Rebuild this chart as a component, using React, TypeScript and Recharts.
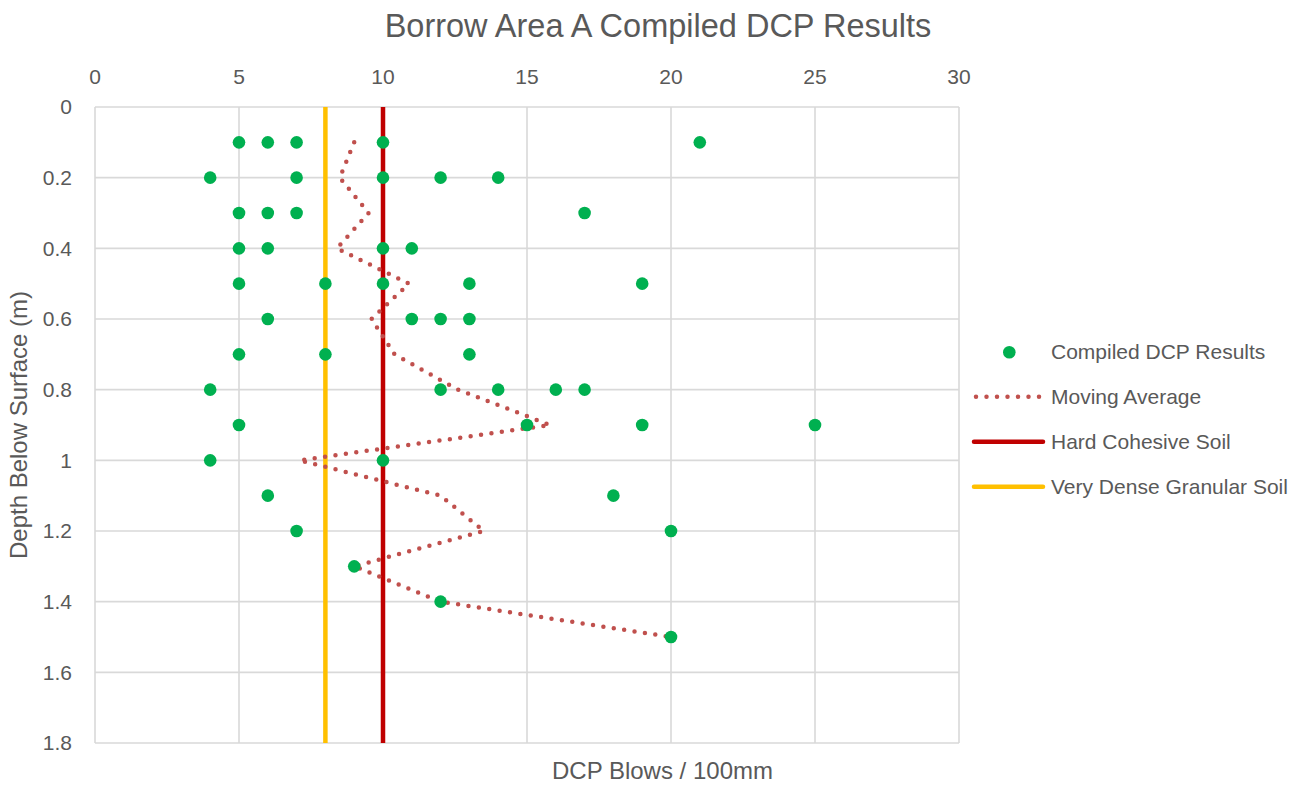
import React from 'react';
import { ScatterChart, Scatter, XAxis, YAxis, CartesianGrid } from 'recharts';

// Compiled DCP results (depth in m, blows per 100mm)
const dcpDepth = [
  0.1, 0.1, 0.1, 0.1, 0.1,
  0.2, 0.2, 0.2, 0.2, 0.2,
  0.3, 0.3, 0.3, 0.3,
  0.4, 0.4, 0.4, 0.4,
  0.5, 0.5, 0.5, 0.5, 0.5,
  0.6, 0.6, 0.6, 0.6,
  0.7, 0.7, 0.7,
  0.8, 0.8, 0.8, 0.8, 0.8,
  0.9, 0.9, 0.9, 0.9,
  1.0, 1.0,
  1.1, 1.1,
  1.2, 1.2,
  1.3,
  1.4,
  1.5,
];
const dcpBlows = [
  5, 6, 7, 10, 21,
  4, 7, 10, 12, 14,
  5, 6, 7, 17,
  5, 6, 10, 11,
  5, 8, 10, 13, 19,
  6, 11, 12, 13,
  5, 8, 13,
  4, 12, 14, 16, 17,
  5, 15, 19, 25,
  4, 10,
  6, 18,
  7, 20,
  9,
  12,
  20,
];

// Moving average
const maDepth = [0.1, 0.2, 0.3, 0.4, 0.5, 0.6, 0.7, 0.8, 0.9, 1.0, 1.1, 1.2, 1.3, 1.4, 1.5];
const maBlows = [9.0, 8.5, 9.5, 8.4, 10.9, 9.6, 10.4, 12.6, 15.8, 7.1, 12.0, 13.5, 9.0, 12.0, 20.0];

// Threshold lines
const hardCohesiveBlows = 10;
const denseGranularBlows = 8;
const thresholdDepths = [0, 1.8];

// Axes
const xTicks = [0, 5, 10, 15, 20, 25, 30];
const yTicks = [0, 0.2, 0.4, 0.6, 0.8, 1, 1.2, 1.4, 1.6, 1.8];

const title = 'Borrow Area A Compiled DCP Results';
const xTitle = 'DCP Blows / 100mm';
const yTitle = 'Depth Below Surface (m)';
const legendLabels = ['Compiled DCP Results', 'Moving Average', 'Hard Cohesive Soil', 'Very Dense Granular Soil'];

const FONT = '"Liberation Sans", Arial, sans-serif';
const TEXT = '#595959';
const GREEN = '#00B050';
const MA_RED = '#C0504D';
const DARK_RED = '#C00000';
const YELLOW = '#FFC000';

const points = dcpBlows.map((b, i) => ({ x: b, y: dcpDepth[i] }));
const maData = maBlows.map((b, i) => ({ x: b, y: maDepth[i] }));
const hardData = thresholdDepths.map((d) => ({ x: hardCohesiveBlows, y: d }));
const granularData = thresholdDepths.map((d) => ({ x: denseGranularBlows, y: d }));

const NoShape = () => <g />;
const Dot = (props: any) => <circle cx={props.cx} cy={props.cy} r={6.3} fill={GREEN} />;

export default function App() {
  return (
    <div style={{ position: 'absolute', left: 0, top: 0, width: 1306, height: 786, background: '#fff' }}>
      <ScatterChart width={1306} height={786} margin={{ top: 0, left: 0, right: 347, bottom: 43 }}>
        <CartesianGrid stroke="#D9D9D9" strokeWidth={1.6} />
        <XAxis
          type="number"
          dataKey="x"
          orientation="top"
          domain={[0, 30]}
          ticks={xTicks}
          height={107}
          axisLine={false}
          tickLine={false}
          tickSize={0}
          tickMargin={23}
          tick={{ fill: TEXT, fontSize: 21, fontFamily: FONT }}
          allowDataOverflow
        />
        <YAxis
          type="number"
          dataKey="y"
          reversed
          domain={[0, 1.8]}
          ticks={yTicks}
          width={95}
          axisLine={false}
          tickLine={false}
          tickSize={0}
          tickMargin={23}
          tick={{ fill: TEXT, fontSize: 21, fontFamily: FONT }}
          allowDataOverflow
        />
        <Scatter
          data={granularData}
          fill={YELLOW}
          line={{ stroke: YELLOW, strokeWidth: 4.5 }}
          shape={NoShape}
          isAnimationActive={false}
          legendType="none"
        />
        <Scatter
          data={hardData}
          fill={DARK_RED}
          line={{ stroke: DARK_RED, strokeWidth: 4.5 }}
          shape={NoShape}
          isAnimationActive={false}
          legendType="none"
        />
        <Scatter
          data={maData}
          fill={MA_RED}
          line={{ stroke: MA_RED, strokeWidth: 4.5, strokeDasharray: '0 10.5', strokeLinecap: 'round' }}
          shape={NoShape}
          isAnimationActive={false}
          legendType="none"
        />
        <Scatter data={points} fill={GREEN} shape={Dot} isAnimationActive={false} legendType="none" />
      </ScatterChart>
      <svg
        width={1306}
        height={786}
        style={{ position: 'absolute', left: 0, top: 0, pointerEvents: 'none' }}
        fontFamily={FONT}
      >
        <text x={658} y={36.7} textAnchor="middle" fontSize={32.5} fill={TEXT}>{title}</text>
        <text x={662.5} y={779.3} textAnchor="middle" fontSize={24} fill={TEXT}>{xTitle}</text>
        <text transform="translate(27,425) rotate(-90)" textAnchor="middle" fontSize={24} fill={TEXT}>{yTitle}</text>

        <circle cx={1009.3} cy={352.2} r={6.3} fill={GREEN} />
        <line x1={976} y1={396.7} x2={1042} y2={396.7} stroke={MA_RED} strokeWidth={4.5} strokeDasharray="0 10.5" strokeLinecap="round" />
        <line x1={974} y1={441.7} x2={1043} y2={441.7} stroke={DARK_RED} strokeWidth={4.5} strokeLinecap="round" />
        <line x1={974} y1={486.7} x2={1043} y2={486.7} stroke={YELLOW} strokeWidth={4.5} strokeLinecap="round" />
        <text x={1051} y={359.3} fontSize={21} fill={TEXT}>{legendLabels[0]}</text>
        <text x={1051} y={404} fontSize={21} fill={TEXT}>{legendLabels[1]}</text>
        <text x={1051} y={449} fontSize={21} fill={TEXT}>{legendLabels[2]}</text>
        <text x={1051} y={494} fontSize={21} fill={TEXT}>{legendLabels[3]}</text>
      </svg>
    </div>
  );
}
